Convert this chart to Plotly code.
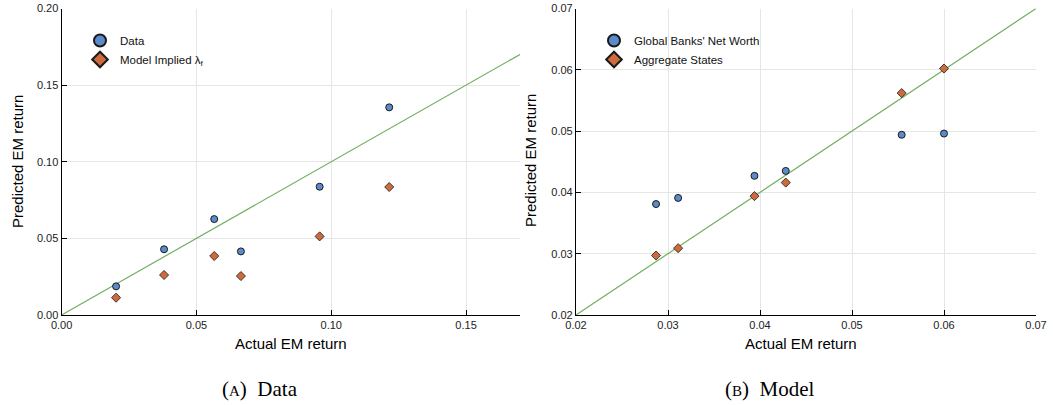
import plotly.graph_objects as go

# ---- Panel A: Data ----
a_actual = [0.0202, 0.0380, 0.0566, 0.0665, 0.0957, 0.1215]
a_data = [0.0187, 0.0429, 0.0626, 0.0415, 0.0837, 0.1355]
a_model = [0.0113, 0.0261, 0.0385, 0.0254, 0.0513, 0.0835]
a_diag = [0.0, 0.17]

# ---- Panel B: Model ----
b_actual = [0.0287, 0.0311, 0.0394, 0.0428, 0.0554, 0.0600]
b_networth = [0.0381, 0.0391, 0.0427, 0.0435, 0.0494, 0.0496]
b_aggregate = [0.0297, 0.0309, 0.0394, 0.0416, 0.0562, 0.0602]
b_diag = [0.02, 0.07]

a_xticks = [0.0, 0.05, 0.10, 0.15]
a_yticks = [0.0, 0.05, 0.10, 0.15, 0.20]
b_ticks = [0.02, 0.03, 0.04, 0.05, 0.06, 0.07]

BLUE = "#5B8BCB"
ORANGE = "#CF6A3C"
GREEN = "#72B062"
EDGE = "#1a1a1a"

fig = go.Figure()

circle = dict(symbol="circle", size=7, color=BLUE, line=dict(color=EDGE, width=1))
diamond = dict(symbol="diamond", size=7, color=ORANGE, line=dict(color=EDGE, width=0.8))

# Panel A
fig.add_trace(go.Scatter(x=a_diag, y=a_diag, mode="lines", line=dict(color=GREEN, width=1.2),
                         showlegend=False, xaxis="x", yaxis="y"))
fig.add_trace(go.Scatter(x=a_actual, y=a_data, mode="markers", name="Data", marker=circle,
                         xaxis="x", yaxis="y", legend="legend"))
fig.add_trace(go.Scatter(x=a_actual, y=a_model, mode="markers", name="Model Implied λ<sub>f</sub>",
                         marker=diamond, xaxis="x", yaxis="y", legend="legend"))

# Panel B
fig.add_trace(go.Scatter(x=b_diag, y=b_diag, mode="lines", line=dict(color=GREEN, width=1.2),
                         showlegend=False, xaxis="x2", yaxis="y2"))
fig.add_trace(go.Scatter(x=b_actual, y=b_networth, mode="markers", name="Global Banks' Net Worth",
                         marker=circle, xaxis="x2", yaxis="y2", legend="legend2"))
fig.add_trace(go.Scatter(x=b_actual, y=b_aggregate, mode="markers", name="Aggregate States",
                         marker=diamond, xaxis="x2", yaxis="y2", legend="legend2"))

W, H = 1053, 405
ydom = [(H - 315) / H, (H - 8.5) / H]

axis_common = dict(
    showgrid=True, gridcolor="#e6e6e6", gridwidth=1,
    zeroline=False, showline=True, linecolor="black", linewidth=1.2,
    ticks="inside", ticklen=5, tickcolor="black", tickwidth=1,
    tickfont=dict(family="Liberation Sans, Arial, sans-serif", size=11, color="#222"),
    mirror=False, automargin=False,
)

legend_common = dict(xanchor="left", yanchor="top", bgcolor="rgba(0,0,0,0)",
                     font=dict(size=11.5, color="#111"), itemsizing="constant",
                     tracegroupgap=0, itemwidth=30)

fig.update_layout(
    width=W, height=H,
    margin=dict(l=0, r=0, t=0, b=0, pad=0, autoexpand=False),
    paper_bgcolor="white", plot_bgcolor="white",
    font=dict(family="Liberation Sans, Arial, sans-serif", color="black"),
    xaxis=dict(domain=[61.6 / W, 520 / W], range=[0, 0.17], tickvals=a_xticks,
               ticktext=[f"{v:.2f}" for v in a_xticks], anchor="y", **axis_common),
    yaxis=dict(domain=ydom, range=[0, 0.20], tickvals=a_yticks,
               ticktext=[f"{v:.2f}" for v in a_yticks], anchor="x", **axis_common),
    xaxis2=dict(domain=[576 / W, 1036 / W], range=[0.02, 0.07], tickvals=b_ticks,
                ticktext=[f"{v:.2f}" for v in b_ticks], anchor="y2", **axis_common),
    yaxis2=dict(domain=ydom, range=[0.02, 0.07], tickvals=b_ticks,
                ticktext=[f"{v:.2f}" for v in b_ticks], anchor="x2", **axis_common),
    legend=dict(x=80 / W, y=1 - 26 / H, **legend_common),
    legend2=dict(x=594 / W, y=1 - 26 / H, **legend_common),
)

ann_font = dict(family="Liberation Sans, Arial, sans-serif", size=15, color="black")
cap_font = dict(family="Liberation Serif, Times New Roman, serif", size=21, color="black")
fig.add_annotation(text="Actual EM return", x=291 / W, y=1 - 343 / H, xref="paper", yref="paper",
                   showarrow=False, font=ann_font, xanchor="center", yanchor="middle")
fig.add_annotation(text="Actual EM return", x=801 / W, y=1 - 343 / H, xref="paper", yref="paper",
                   showarrow=False, font=ann_font, xanchor="center", yanchor="middle")
fig.add_annotation(text="Predicted EM return", x=17 / W, y=1 - 162 / H, xref="paper", yref="paper",
                   showarrow=False, font=ann_font, textangle=-90, xanchor="center", yanchor="middle")
fig.add_annotation(text="Predicted EM return", x=531 / W, y=1 - 161 / H, xref="paper", yref="paper",
                   showarrow=False, font=ann_font, textangle=-90, xanchor="center", yanchor="middle")
fig.add_annotation(text="(<span style='font-size:15px'>A</span>)&nbsp;&nbsp;Data", x=260 / W, y=1 - 389 / H,
                   xref="paper", yref="paper", showarrow=False, font=cap_font, xanchor="center", yanchor="middle")
fig.add_annotation(text="(<span style='font-size:15px'>B</span>)&nbsp;&nbsp;Model", x=770 / W, y=1 - 389 / H,
                   xref="paper", yref="paper", showarrow=False, font=cap_font, xanchor="center", yanchor="middle")

fig.write_html("out.html", config={"displayModeBar": False},
               post_script="document.body.style.margin='0';")
